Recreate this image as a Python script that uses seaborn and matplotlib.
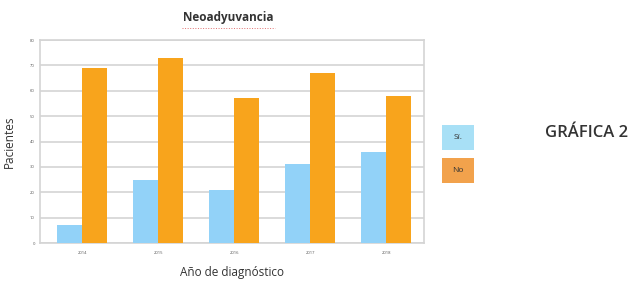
import matplotlib
matplotlib.use("Agg")
import matplotlib.pyplot as plt
from matplotlib.patches import Rectangle
import seaborn as sns
import pandas as pd

# data
years = ["2014", "2015", "2016", "2017", "2018"]
si_values = [7, 25, 21, 31, 36]
no_values = [69, 73, 57, 67, 58]
groups = ["Sí.", "No"]

df = pd.DataFrame({
    "year": years * 2,
    "grupo": [groups[0]] * len(years) + [groups[1]] * len(years),
    "pacientes": si_values + no_values,
})

sns.set_style("white")
plt.rcParams["font.family"] = ["Open Sans", "DejaVu Sans"]

colors = {"Sí.": "#92d2f8", "No": "#f8a41c"}

fig = plt.figure(figsize=(6.39, 2.84), dpi=100)
ax = fig.add_axes([0.063, 0.144, 0.601, 0.715])

sns.barplot(data=df, x="year", y="pacientes", hue="grupo", palette=colors,
            width=0.66, gap=0, saturation=1, legend=False, ax=ax, zorder=3,
            edgecolor="none", linewidth=0)

ax.set_ylim(0, 80)
ax.set_xlim(-0.55, 4.5)
ax.set_yticks(range(0, 81, 10))
ax.yaxis.grid(True, color="#d4d4d4", linewidth=1.2, zorder=0)
ax.set_axisbelow(True)
for side in ["top", "right", "left", "bottom"]:
    ax.spines[side].set_color("#d4d4d4")
    ax.spines[side].set_linewidth(1.2)
ax.tick_params(axis="both", labelsize=3, colors="#555555", length=2, width=0.6)
ax.tick_params(axis="y", pad=2)

ax.set_xlabel("Año de diagnóstico", fontsize=8.5, color="#333333", labelpad=8)
ax.set_ylabel("Pacientes", fontsize=8.5, color="#333333", labelpad=10)
fig.text(0.357, 0.937, "Neoadyuvancia", fontsize=8.5, fontweight="bold",
         color="#333333", ha="center", va="center")
fig.add_artist(plt.Line2D([0.285, 0.43], [0.9, 0.9], color="#e07070",
                          linewidth=0.7, linestyle=":"))

# legend boxes with the label inside
fig.add_artist(Rectangle((0.692, 0.472), 0.050, 0.088, transform=fig.transFigure,
                         fc="#a8e0f6", ec="none"))
fig.add_artist(Rectangle((0.692, 0.356), 0.050, 0.088, transform=fig.transFigure,
                         fc="#f2a24c", ec="none"))
fig.text(0.717, 0.516, "Sí.", fontsize=6, color="#333333", ha="center", va="center")
fig.text(0.717, 0.400, "No", fontsize=6, color="#333333", ha="center", va="center")

fig.text(0.918, 0.53, "GRÁFICA 2", fontsize=12, fontweight="semibold", color="#333333",
         ha="center", va="center")

fig.savefig("out.png", dpi=100)
